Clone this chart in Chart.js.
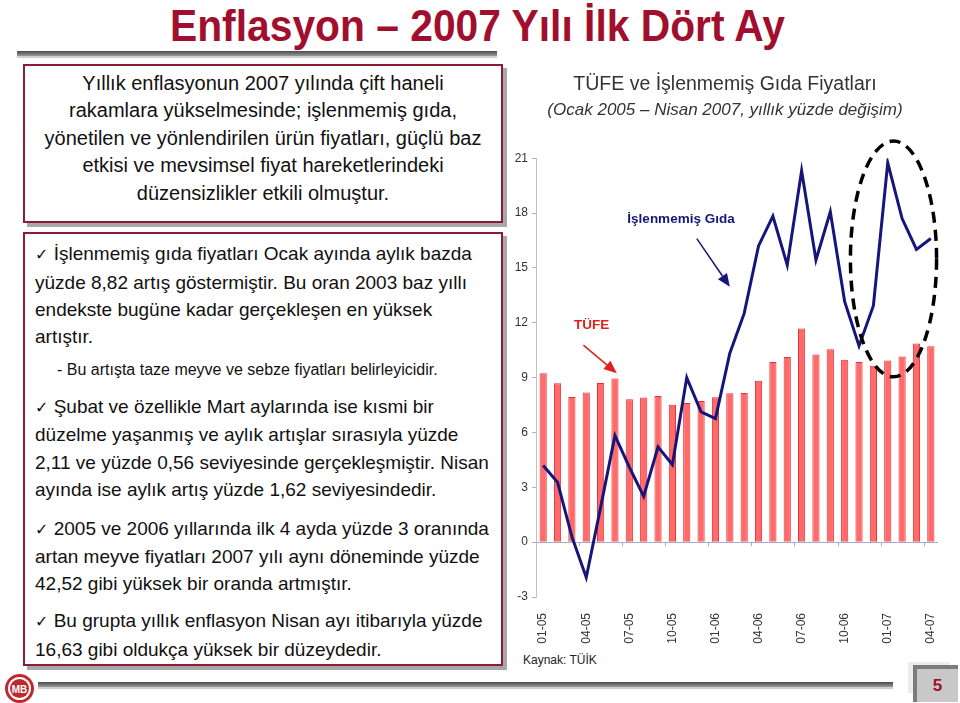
<!DOCTYPE html>
<html lang="tr">
<head>
    <meta charset="UTF-8">
    <title>Enflasyon – 2007 Yılı İlk Dört Ay</title>
    <style>
        body {
            margin: 0;
            width: 960px;
            height: 703px;
            position: relative;
            overflow: hidden;
            background: #fff;
            font-family: "Liberation Sans", Arial, sans-serif;
            color: #111;
        }
        .title {
            position: absolute;
            top: 4px;
            left: 170px;
            font-family: "Liberation Sans Narrow", "Liberation Sans", Arial, sans-serif;
            font-weight: bold;
            font-size: 44px;
            line-height: 44px;
            color: #a0102e;
            white-space: nowrap;
            transform-origin: 0 0;
        }
        .rule {
            position: absolute;
            height: 5px;
            background: linear-gradient(#4a4a4a, #9a9a9a);
            box-shadow: 0 2px 1px #d0d0d0;
        }
        .box {
            position: absolute;
            box-sizing: border-box;
            border: 2px solid #8c1c36;
            box-shadow: 4px 4px 0 #a8a8a8;
            background: #fff;
        }
        .txt {
            position: absolute;
            font-size: 19px;
            white-space: nowrap;
        }
        .ck { font-family: "DejaVu Sans", sans-serif; font-size: 16px; }
        #chartBox {
            position: absolute;
            left: 512px;
            top: 60px;
            width: 430px;
            height: 590px;
        }
        .src { position: absolute; left: 523px; top: 653px; font-size: 12px; line-height: 14px; color: #222; }
        .pg { position: absolute; }
    </style>
</head>
<body>
    <div class="title" id="mainTitle">Enflasyon – 2007 Yılı İlk Dört Ay</div>
    <div class="rule" style="left:17px; top:51px; width:480px;"></div>

    <div class="box" style="left:23px; top:64px; width:480px; height:159px;"></div>
    <div class="txt" style="left:23px; width:480px; top:69.5px; line-height:27.5px; font-size:20px; text-align:center;">
        Yıllık enflasyonun 2007 yılında çift haneli<br>
        rakamlara yükselmesinde; işlenmemiş gıda,<br>
        yönetilen ve yönlendirilen ürün fiyatları, güçlü baz<br>
        etkisi ve mevsimsel fiyat hareketlerindeki<br>
        düzensizlikler etkili olmuştur.
    </div>

    <div class="box" style="left:23px; top:232px; width:480px; height:434px;"></div>
    <div class="txt" style="left:35px; top:240.3px; line-height:27.3px;">
        <span class="ck">✓</span> İşlenmemiş gıda fiyatları Ocak ayında aylık bazda<br>
        yüzde 8,82 artış göstermiştir. Bu oran 2003 baz yıllı<br>
        endekste bugüne kadar gerçekleşen en yüksek<br>
        artıştır.
    </div>
    <div class="txt" style="left:57px; top:360.3px; line-height:20px; font-size:16px;">
        - Bu artışta taze meyve ve sebze fiyatları belirleyicidir.
    </div>
    <div class="txt" style="left:35px; top:393px; line-height:27.3px;">
        <span class="ck">✓</span> Şubat ve özellikle Mart aylarında ise kısmi bir<br>
        düzelme yaşanmış ve aylık artışlar sırasıyla yüzde<br>
        2,11 ve yüzde 0,56 seviyesinde gerçekleşmiştir. Nisan<br>
        ayında ise aylık artış yüzde 1,62 seviyesindedir.
    </div>
    <div class="txt" style="left:35px; top:514.7px; line-height:27.3px;">
        <span class="ck">✓</span> 2005 ve 2006 yıllarında ilk 4 ayda yüzde 3 oranında<br>
        artan meyve fiyatları 2007 yılı aynı döneminde yüzde<br>
        42,52 gibi yüksek bir oranda artmıştır.
    </div>
    <div class="txt" style="left:35px; top:607.3px; line-height:27.3px;">
        <span class="ck">✓</span> Bu grupta yıllık enflasyon Nisan ayı itibarıyla yüzde<br>
        16,63 gibi oldukça yüksek bir düzeydedir.
    </div>

    <div id="chartBox"><canvas id="chart" width="430" height="590"></canvas></div>
    <div class="src">Kaynak: TÜİK</div>

    <!-- footer -->
    <svg style="position:absolute; left:4px; top:673px;" width="31" height="31" viewBox="0 0 31 31">
        <circle cx="15.5" cy="15.5" r="14.5" fill="#c0282d"/>
        <circle cx="15.5" cy="15.5" r="11.5" fill="#fff"/>
        <circle cx="15.5" cy="15.5" r="9.5" fill="#c0282d"/>
        <text x="15.5" y="19.5" font-family="Liberation Sans" font-weight="bold" font-size="10" fill="#fff" text-anchor="middle">MB</text>
    </svg>
    <div class="rule" style="left:38px; top:682px; width:855px;"></div>
    <div class="pg" style="left:908px; top:662px; width:42px; height:31px; background:#ececec;"></div>
    <div class="pg" style="left:913px; top:665px; width:45px; height:37px; background:#7c7c7c;"></div>
    <div class="pg" style="left:917px; top:669px; width:41px; height:33px; background:#c8c8c8; color:#a0102e; font-weight:bold; font-size:17px; line-height:33px; text-align:center;">5</div>

    <script src="https://cdn.jsdelivr.net/npm/chart.js"></script>
    <script>
        // stretch the condensed title to the width it has on the slide
        const titleEl = document.getElementById('mainTitle');
        titleEl.style.transform = 'scaleX(' + (615 / titleEl.getBoundingClientRect().width) + ')';

        const FONT = "'Liberation Sans', Arial, sans-serif";

        // months, Ocak 2005 - Nisan 2007
        const months = ['01-05', '02-05', '03-05', '04-05', '05-05', '06-05', '07-05', '08-05', '09-05', '10-05', '11-05', '12-05',
                        '01-06', '02-06', '03-06', '04-06', '05-06', '06-06', '07-06', '08-06', '09-06', '10-06', '11-06', '12-06',
                        '01-07', '02-07', '03-07', '04-07'];
        // TÜFE, annual % change (bars)
        const tufe = [9.24, 8.69, 7.94, 8.18, 8.70, 8.95, 7.82, 7.91, 7.99, 7.52, 7.61, 7.72,
                      7.93, 8.15, 8.16, 8.83, 9.86, 10.12, 11.69, 10.26, 10.55, 9.98, 9.86, 9.65,
                      9.93, 10.16, 10.86, 10.72];
        // İşlenmemiş gıda, annual % change (line)
        const gida = [4.19, 3.28, 0.3, -1.93, 1.9, 5.83, 4.1, 2.5, 5.21, 4.24, 9.0, 7.12,
                      6.76, 10.33, 12.51, 16.2, 17.83, 15.15, 20.31, 15.43, 18.07, 13.15, 10.73, 12.93,
                      20.75, 17.7, 16.01, 16.61];
        const yMin = -3, yMax = 21, yStep = 3;

        function arrow(ctx, x1, y1, x2, y2, color) {
            const a = Math.atan2(y2 - y1, x2 - x1);
            const len = 13, half = 5.5;
            ctx.strokeStyle = color;
            ctx.fillStyle = color;
            ctx.lineWidth = 1.5;
            ctx.beginPath();
            ctx.moveTo(x1, y1);
            ctx.lineTo(x2 - Math.cos(a) * len, y2 - Math.sin(a) * len);
            ctx.stroke();
            ctx.beginPath();
            ctx.moveTo(x2, y2);
            ctx.lineTo(x2 - Math.cos(a) * len - Math.sin(a) * half, y2 - Math.sin(a) * len + Math.cos(a) * half);
            ctx.lineTo(x2 - Math.cos(a) * len + Math.sin(a) * half, y2 - Math.sin(a) * len - Math.cos(a) * half);
            ctx.closePath();
            ctx.fill();
        }

        const extras = {
            id: 'extras',
            afterDatasetsDraw(chart) {
                const { ctx, scales: { x, y } } = chart;
                const y0 = y.getPixelForValue(0);
                ctx.save();

                // small tick marks on the zero line, every third month
                ctx.strokeStyle = '#a9a9c4';
                ctx.lineWidth = 1;
                for (let i = 2; i < months.length - 1; i += 3) {
                    const px = Math.round(x.getPixelForValue(i + 0.5)) + 0.5;
                    ctx.beginPath();
                    ctx.moveTo(px, y0);
                    ctx.lineTo(px, y0 + 4);
                    ctx.stroke();
                }

                // labels with arrows
                ctx.font = "bold 13.5px 'Liberation Sans', Arial, sans-serif";
                ctx.textAlign = 'center';
                ctx.textBaseline = 'middle';
                ctx.fillStyle = '#16167a';
                ctx.fillText('İşlenmemiş Gıda', x.getPixelForValue(9.6), y.getPixelForValue(17.68));
                arrow(ctx, x.getPixelForValue(10.7), y.getPixelForValue(16.6), x.getPixelForValue(13.0), y.getPixelForValue(13.97), '#16167a');

                ctx.fillStyle = '#e0201c';
                ctx.fillText('TÜFE', x.getPixelForValue(3.37), y.getPixelForValue(11.88));
                arrow(ctx, x.getPixelForValue(2.8), y.getPixelForValue(10.78), x.getPixelForValue(5.13), y.getPixelForValue(9.24), '#e0201c');

                // dashed ellipse round the 2007 months
                const cx = x.getPixelForValue(24.4), cy = y.getPixelForValue(15.49);
                const rx = x.getPixelForValue(27.4) - cx, ry = y.getPixelForValue(15.49) - y.getPixelForValue(21.94);
                ctx.strokeStyle = '#000';
                ctx.lineWidth = 3.5;
                ctx.setLineDash([11, 7]);
                ctx.beginPath();
                ctx.ellipse(cx, cy, rx, ry, 0, 0, Math.PI * 2);
                ctx.stroke();
                ctx.restore();
            }
        };

        new Chart(document.getElementById('chart'), {
            type: 'bar',
            data: {
                labels: months,
                datasets: [{
                    type: 'line',
                    label: 'İşlenmemiş Gıda',
                    data: gida,
                    borderColor: '#16167a',
                    borderWidth: 3,
                    pointRadius: 0,
                    tension: 0,
                    order: 0
                }, {
                    label: 'TÜFE',
                    data: tufe,
                    backgroundColor: '#ff6a6a',
                    borderColor: '#e43232',
                    borderWidth: 1,
                    barPercentage: 0.5,
                    categoryPercentage: 1,
                    order: 1
                }]
            },
            options: {
                responsive: false,
                animation: false,
                layout: { padding: { left: 0, right: 4, top: 0, bottom: 0 } },
                plugins: {
                    legend: { display: false },
                    tooltip: { enabled: false },
                    title: {
                        display: true,
                        text: 'TÜFE ve İşlenmemiş Gıda Fiyatları',
                        color: '#333',
                        font: { family: FONT, size: 19.5, weight: 'normal' },
                        padding: { top: 13.3, bottom: 3 }
                    },
                    subtitle: {
                        display: true,
                        text: '(Ocak 2005 – Nisan 2007, yıllık yüzde değişim)',
                        color: '#333',
                        font: { family: FONT, size: 17, style: 'italic' },
                        padding: { top: 0, bottom: 38.1 }
                    }
                },
                scales: {
                    x: {
                        grid: { display: false },
                        border: { display: false },
                        ticks: {
                            autoSkip: false,
                            minRotation: 90,
                            maxRotation: 90,
                            padding: 8,
                            color: '#333',
                            font: { family: FONT, size: 12 },
                            callback: (v, i) => (i % 3 === 0 ? months[i] : '')
                        },
                        afterFit: s => { s.height = 53; s.paddingLeft = 0; s.paddingRight = 0; }
                    },
                    y: {
                        min: yMin,
                        max: yMax,
                        ticks: { stepSize: yStep, color: '#333', font: { family: FONT, size: 12 }, padding: 4 },
                        grid: {
                            color: c => (c.tick && c.tick.value === 0 ? '#a9a9c4' : 'rgba(0,0,0,0)'),
                            tickColor: '#b5b5b5',
                            tickLength: 4
                        },
                        border: { color: '#c0c0c0' },
                        afterFit: s => { s.width = 24; s.paddingTop = 0; s.paddingBottom = 0; }
                    }
                }
            },
            plugins: [extras]
        });
    </script>
</body>
</html>
